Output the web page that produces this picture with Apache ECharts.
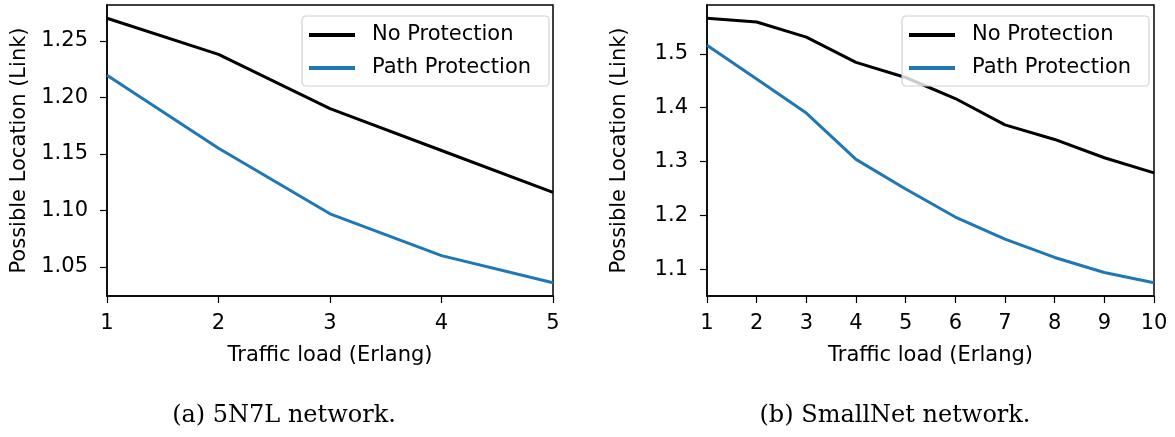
<!DOCTYPE html>
<html>
<head>
<meta charset="utf-8">
<script src="https://cdn.jsdelivr.net/npm/echarts@6/dist/echarts.min.js"></script>
<style>
html,body{margin:0;padding:0;background:#fff;}
#chart{width:1175px;height:437px;}
</style>
</head>
<body>
<div id="chart"></div>
<script>
// ---- data ----
const loadA = [1, 2, 3, 4, 5];
const noProtA = [1.270, 1.238, 1.190, 1.153, 1.116];
const pathProtA = [1.2195, 1.155, 1.097, 1.060, 1.036];

const loadB = [1, 2, 3, 4, 5, 6, 7, 8, 9, 10];
const noProtB = [1.566, 1.559, 1.531, 1.484, 1.456, 1.417, 1.368, 1.341, 1.307, 1.279];
const pathProtB = [1.516, 1.453, 1.390, 1.304, 1.249, 1.197, 1.156, 1.122, 1.094, 1.075];

const yTicksA = [1.05, 1.10, 1.15, 1.20, 1.25];
const yTicksB = [1.1, 1.2, 1.3, 1.4, 1.5];

const seriesNames = ['No Protection', 'Path Protection'];
const yAxisTitle = 'Possible Location (Link)';
const xAxisTitle = 'Traffic load (Erlang)';
const captions = ['(a) 5N7L network.', '(b) SmallNet network.'];

// ---- helpers ----
const FONT = 'DejaVu Sans';
const FS = 21;
function pairs(xs, ys) { return xs.map((x, i) => [x, ys[i]]); }
function pad(values, frac) {
  const lo = Math.min(...values), hi = Math.max(...values);
  const m = (hi - lo) * frac;
  return [lo - m, hi + m];
}
const rangeA = pad(noProtA.concat(pathProtA), 0.05);
const rangeB = pad(noProtB.concat(pathProtB), 0.05);

function xAxisCfg(idx, maxV) {
  return {
    type: 'value', gridIndex: idx, min: 1, max: maxV, interval: 1,
    name: xAxisTitle, nameLocation: 'middle', nameGap: 49,
    nameTextStyle: {fontFamily: FONT, fontSize: FS, color: '#000'},
    axisLine: {show: true, lineStyle: {color: '#000', width: 1.5}},
    axisTick: {show: true, inside: false, length: 7, lineStyle: {color: '#000', width: 1.2}},
    axisLabel: {fontFamily: FONT, fontSize: FS, color: '#000', margin: 17},
    splitLine: {show: false}
  };
}
function yAxisCfg(idx, range, ticks, digits) {
  return {
    type: 'value', gridIndex: idx, min: range[0], max: range[1],
    name: yAxisTitle, nameLocation: 'middle', nameGap: 77, nameRotate: 90,
    nameTextStyle: {fontFamily: FONT, fontSize: FS, color: '#000'},
    axisLine: {show: true, lineStyle: {color: '#000', width: 1.5}},
    axisTick: {show: true, inside: false, length: 7, customValues: ticks, lineStyle: {color: '#000', width: 1.2}},
    axisLabel: {fontFamily: FONT, fontSize: FS, color: '#000', margin: 19, customValues: ticks,
      formatter: v => Number(v).toFixed(digits)},
    splitLine: {show: false}
  };
}
function legendCfg(left) {
  return {
    orient: 'vertical', left: left, top: 16,
    data: seriesNames,
    icon: 'rect', itemWidth: 46, itemHeight: 4, itemGap: 9,
    padding: [7, 18, 6, 7],
    backgroundColor: 'rgba(255,255,255,0.8)',
    borderColor: 'rgba(204,204,204,0.9)', borderWidth: 1.2, borderRadius: 4,
    textStyle: {fontFamily: FONT, fontSize: FS, color: '#000', lineHeight: 24, padding: [0, 0, 0, 12]},
    selectedMode: false
  };
}
function lineSeries(name, color, xi, xs, ys) {
  return {
    type: 'line', name: name, xAxisIndex: xi, yAxisIndex: xi,
    data: pairs(xs, ys), showSymbol: false, symbol: 'none',
    lineStyle: {color: color, width: 3}, itemStyle: {color: color},
    clip: true
  };
}

const chart = echarts.init(document.getElementById('chart'), null, {renderer: 'canvas'});
chart.setOption({
  animation: false,
  backgroundColor: '#fff',
  grid: [
    {left: 107, top: 5, width: 446, height: 291, show: true, borderColor: '#000', borderWidth: 1.5, backgroundColor: 'transparent'},
    {left: 707, top: 5, width: 447, height: 291, show: true, borderColor: '#000', borderWidth: 1.5, backgroundColor: 'transparent'}
  ],
  xAxis: [xAxisCfg(0, 5), xAxisCfg(1, 10)],
  yAxis: [yAxisCfg(0, rangeA, yTicksA, 2), yAxisCfg(1, rangeB, yTicksB, 1)],
  legend: [legendCfg(302), legendCfg(902)],
  series: [
    lineSeries(seriesNames[0], '#000000', 0, loadA, noProtA),
    lineSeries(seriesNames[1], '#1f77b4', 0, loadA, pathProtA),
    lineSeries(seriesNames[0], '#000000', 1, loadB, noProtB),
    lineSeries(seriesNames[1], '#1f77b4', 1, loadB, pathProtB)
  ],
  graphic: [
    {type: 'text', x: 284, y: 416, style: {text: captions[0], font: '24px "DejaVu Serif"', fill: '#000', textAlign: 'center', textVerticalAlign: 'middle'}},
    {type: 'text', x: 895, y: 416, style: {text: captions[1], font: '24px "DejaVu Serif"', fill: '#000', textAlign: 'center', textVerticalAlign: 'middle'}}
  ]
});
</script>
</body>
</html>
